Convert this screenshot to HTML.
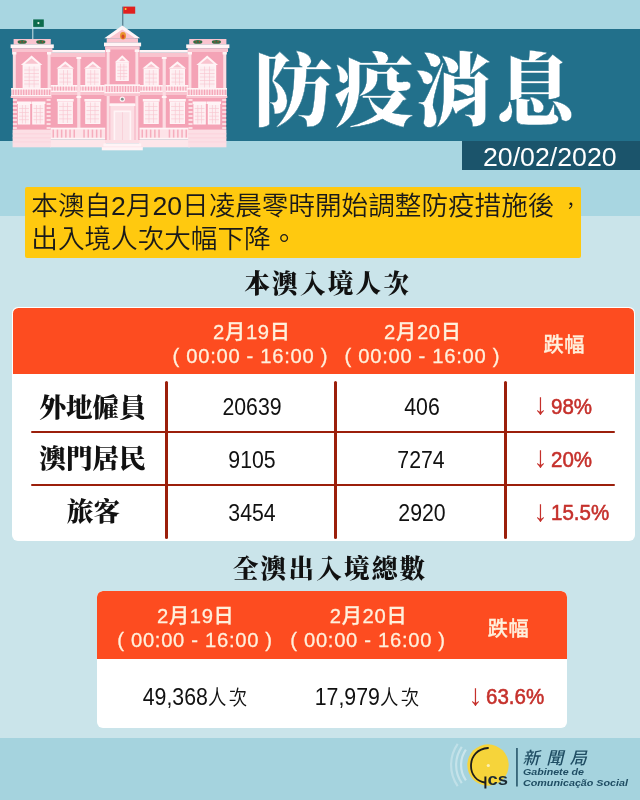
<!DOCTYPE html>
<html lang="zh-Hant">
<head>
<meta charset="utf-8">
<title>防疫消息</title>
<style>
html,body{margin:0;padding:0;}
body{width:640px;height:800px;overflow:hidden;position:relative;background:#cae4ea;
  font-family:"Liberation Sans","Noto Sans CJK TC",sans-serif;color:#111;}
.abs{position:absolute;}
#bgtop{left:0;top:0;width:640px;height:215.7px;background:#a8d6e1;}
#bgbot{left:0;top:738.4px;width:640px;height:62px;background:#a5d3de;}
#band{left:0;top:28.6px;width:640px;height:112.2px;background:#22708b;}
#dateband{left:462px;top:140.8px;width:178px;height:29px;background:#1b546b;}
#title{left:253.4px;top:34.4px;font-family:"Liberation Serif","Noto Serif CJK SC",serif;font-weight:900;
  font-size:79.2px;line-height:116px;color:#fff;white-space:nowrap;letter-spacing:1.5px;-webkit-text-stroke:0.4px #22708b;}
#date{left:462px;top:141.5px;width:154.6px;height:29px;line-height:30px;text-align:right;color:#fff;font-size:26.7px;white-space:nowrap;}
#note{left:24.8px;top:187.4px;width:556px;height:70.2px;background:#ffc90f;border-radius:2px;}
#note div{position:absolute;left:6.5px;white-space:nowrap;font-size:26.6px;line-height:33px;color:#1a1a1a;font-weight:350;}
.sec{font-family:"Liberation Serif","Noto Serif CJK SC",serif;font-weight:900;font-size:25.6px;line-height:34px;letter-spacing:2.2px;text-indent:2.2px;
  white-space:nowrap;text-align:center;color:#111;width:300px;}
.card{background:#fff;border-radius:6px;overflow:hidden;}
.hd{position:absolute;left:0.6px;top:0.6px;right:0.6px;background:#fd4c20;border-radius:5.5px 5.5px 0 0;}
.ht{position:absolute;text-align:center;color:#fff0dc;white-space:nowrap;font-size:20.2px;line-height:24px;width:200px;font-weight:500;letter-spacing:0.7px;text-indent:0.7px;-webkit-text-stroke:0.3px #fff0dc;}
.num{position:absolute;text-align:center;white-space:nowrap;font-size:23.8px;transform:scaleX(0.895);line-height:24px;color:#111;width:160px;}
.rc{font-size:20.6px;font-weight:350;letter-spacing:2.8px;margin-right:-2.8px;}
.red{color:#c5302b;text-align:left;font-size:22.2px;transform:none;-webkit-text-stroke:0.35px #c5302b;}
.ar{display:inline-block;position:relative;top:0.8px;transform:scale(1.3,1.34);transform-origin:50% 78%;margin-right:5.4px;-webkit-text-stroke:0;}
.pv{display:inline-block;transform:scaleX(0.925);transform-origin:0 50%;-webkit-text-stroke:0.55px #c5302b;}
.lab{position:absolute;text-align:center;white-space:nowrap;font-family:"Liberation Serif","Noto Serif CJK SC",serif;font-weight:900;
  font-size:26.7px;line-height:30px;width:140px;color:#111;}
.vl,.hl{position:absolute;background:#9b1f0b;border-radius:2px;}
</style>
</head>
<body>
<div class="abs" id="bgtop"></div>
<div class="abs" id="bgbot"></div>
<div class="abs" id="band"></div>
<div class="abs" id="dateband"></div>
<svg class="abs" style="left:0;top:0" width="250" height="160" viewBox="0 0 250 160" shape-rendering="auto">
<rect x="50.00" y="50.00" width="56.00" height="2.80" fill="#fff4f6"/>
<rect x="50.00" y="52.80" width="56.00" height="4.20" fill="#f9c4cf"/>
<rect x="50.00" y="57.00" width="56.00" height="71.00" fill="#f4a3b6"/>
<polygon points="65.30,61.30 74.10,68.60 56.50,68.60" fill="#fff4f6"/>
<polygon points="65.30,63.90 69.90,67.40 60.70,67.40" fill="#f9c4cf"/>
<rect x="57.70" y="68.60" width="15.20" height="18.40" fill="#fff4f6"/>
<rect x="59.30" y="70.10" width="12.00" height="15.90" fill="#fdeef1"/>
<rect x="63.00" y="70.10" width="0.60" height="15.90" fill="#f9c4cf"/>
<rect x="67.00" y="70.10" width="0.60" height="15.90" fill="#f9c4cf"/>
<rect x="59.30" y="73.77" width="12.00" height="0.60" fill="#f9c4cf"/>
<rect x="59.30" y="77.75" width="12.00" height="0.60" fill="#f9c4cf"/>
<rect x="59.30" y="81.73" width="12.00" height="0.60" fill="#f9c4cf"/>
<polygon points="92.80,61.30 101.60,68.60 84.00,68.60" fill="#fff4f6"/>
<polygon points="92.80,63.90 97.40,67.40 88.20,67.40" fill="#f9c4cf"/>
<rect x="85.20" y="68.60" width="15.20" height="18.40" fill="#fff4f6"/>
<rect x="86.80" y="70.10" width="12.00" height="15.90" fill="#fdeef1"/>
<rect x="90.50" y="70.10" width="0.60" height="15.90" fill="#f9c4cf"/>
<rect x="94.50" y="70.10" width="0.60" height="15.90" fill="#f9c4cf"/>
<rect x="86.80" y="73.77" width="12.00" height="0.60" fill="#f9c4cf"/>
<rect x="86.80" y="77.75" width="12.00" height="0.60" fill="#f9c4cf"/>
<rect x="86.80" y="81.73" width="12.00" height="0.60" fill="#f9c4cf"/>
<rect x="50.00" y="85.00" width="56.00" height="7.20" fill="#fcdde3"/>
<rect x="50.00" y="85.00" width="56.00" height="1.60" fill="#fff4f6"/>
<rect x="50.00" y="90.60" width="56.00" height="1.60" fill="#fff4f6"/>
<rect x="51.50" y="86.60" width="1.20" height="4.00" fill="#f4a3b6"/>
<rect x="54.30" y="86.60" width="1.20" height="4.00" fill="#f4a3b6"/>
<rect x="57.10" y="86.60" width="1.20" height="4.00" fill="#f4a3b6"/>
<rect x="59.90" y="86.60" width="1.20" height="4.00" fill="#f4a3b6"/>
<rect x="62.70" y="86.60" width="1.20" height="4.00" fill="#f4a3b6"/>
<rect x="65.50" y="86.60" width="1.20" height="4.00" fill="#f4a3b6"/>
<rect x="68.30" y="86.60" width="1.20" height="4.00" fill="#f4a3b6"/>
<rect x="71.10" y="86.60" width="1.20" height="4.00" fill="#f4a3b6"/>
<rect x="73.90" y="86.60" width="1.20" height="4.00" fill="#f4a3b6"/>
<rect x="76.70" y="86.60" width="1.20" height="4.00" fill="#f4a3b6"/>
<rect x="79.50" y="86.60" width="1.20" height="4.00" fill="#f4a3b6"/>
<rect x="82.30" y="86.60" width="1.20" height="4.00" fill="#f4a3b6"/>
<rect x="85.10" y="86.60" width="1.20" height="4.00" fill="#f4a3b6"/>
<rect x="87.90" y="86.60" width="1.20" height="4.00" fill="#f4a3b6"/>
<rect x="90.70" y="86.60" width="1.20" height="4.00" fill="#f4a3b6"/>
<rect x="93.50" y="86.60" width="1.20" height="4.00" fill="#f4a3b6"/>
<rect x="96.30" y="86.60" width="1.20" height="4.00" fill="#f4a3b6"/>
<rect x="99.10" y="86.60" width="1.20" height="4.00" fill="#f4a3b6"/>
<rect x="101.90" y="86.60" width="1.20" height="4.00" fill="#f4a3b6"/>
<rect x="50.00" y="92.20" width="56.00" height="2.80" fill="#f9c4cf"/>
<rect x="56.90" y="99.00" width="16.80" height="2.50" fill="#fff4f6"/>
<rect x="57.70" y="101.50" width="15.20" height="22.50" fill="#fff4f6"/>
<rect x="59.00" y="102.50" width="12.60" height="20.50" fill="#fdeef1"/>
<rect x="62.80" y="102.50" width="0.60" height="20.50" fill="#f9c4cf"/>
<rect x="67.20" y="102.50" width="0.60" height="20.50" fill="#f9c4cf"/>
<rect x="59.00" y="106.30" width="12.60" height="0.60" fill="#f9c4cf"/>
<rect x="59.00" y="110.40" width="12.60" height="0.60" fill="#f9c4cf"/>
<rect x="59.00" y="114.50" width="12.60" height="0.60" fill="#f9c4cf"/>
<rect x="59.00" y="118.60" width="12.60" height="0.60" fill="#f9c4cf"/>
<rect x="84.40" y="99.00" width="16.80" height="2.50" fill="#fff4f6"/>
<rect x="85.20" y="101.50" width="15.20" height="22.50" fill="#fff4f6"/>
<rect x="86.50" y="102.50" width="12.60" height="20.50" fill="#fdeef1"/>
<rect x="90.30" y="102.50" width="0.60" height="20.50" fill="#f9c4cf"/>
<rect x="94.70" y="102.50" width="0.60" height="20.50" fill="#f9c4cf"/>
<rect x="86.50" y="106.30" width="12.60" height="0.60" fill="#f9c4cf"/>
<rect x="86.50" y="110.40" width="12.60" height="0.60" fill="#f9c4cf"/>
<rect x="86.50" y="114.50" width="12.60" height="0.60" fill="#f9c4cf"/>
<rect x="86.50" y="118.60" width="12.60" height="0.60" fill="#f9c4cf"/>
<rect x="77.20" y="57.00" width="3.20" height="71.00" fill="#fcdde3"/>
<rect x="76.40" y="57.00" width="4.80" height="2.00" fill="#fff4f6"/>
<rect x="76.40" y="96.00" width="4.80" height="2.00" fill="#fff4f6"/>
<rect x="50.00" y="127.80" width="56.00" height="11.60" fill="#fde3e8"/>
<rect x="50.00" y="127.80" width="56.00" height="1.50" fill="#fff4f6"/>
<rect x="50.00" y="137.80" width="56.00" height="1.60" fill="#fff4f6"/>
<rect x="52.50" y="129.60" width="1.50" height="8.00" fill="#f6adbd"/>
<rect x="56.70" y="129.60" width="1.50" height="8.00" fill="#f6adbd"/>
<rect x="60.90" y="129.60" width="1.50" height="8.00" fill="#f6adbd"/>
<rect x="65.10" y="129.60" width="1.50" height="8.00" fill="#f6adbd"/>
<rect x="69.30" y="129.60" width="1.50" height="8.00" fill="#f6adbd"/>
<rect x="73.50" y="129.60" width="1.50" height="8.00" fill="#f6adbd"/>
<rect x="83.30" y="129.60" width="1.50" height="8.00" fill="#f6adbd"/>
<rect x="87.50" y="129.60" width="1.50" height="8.00" fill="#f6adbd"/>
<rect x="91.70" y="129.60" width="1.50" height="8.00" fill="#f6adbd"/>
<rect x="95.90" y="129.60" width="1.50" height="8.00" fill="#f6adbd"/>
<rect x="100.10" y="129.60" width="1.50" height="8.00" fill="#f6adbd"/>
<rect x="50.00" y="139.40" width="56.00" height="7.90" fill="#fde6ea"/>
<rect x="139.00" y="50.00" width="51.00" height="2.80" fill="#fff4f6"/>
<rect x="139.00" y="52.80" width="51.00" height="4.20" fill="#f9c4cf"/>
<rect x="139.00" y="57.00" width="51.00" height="71.00" fill="#f4a3b6"/>
<polygon points="151.20,61.30 160.00,68.60 142.40,68.60" fill="#fff4f6"/>
<polygon points="151.20,63.90 155.80,67.40 146.60,67.40" fill="#f9c4cf"/>
<rect x="143.60" y="68.60" width="15.20" height="18.40" fill="#fff4f6"/>
<rect x="145.20" y="70.10" width="12.00" height="15.90" fill="#fdeef1"/>
<rect x="148.90" y="70.10" width="0.60" height="15.90" fill="#f9c4cf"/>
<rect x="152.90" y="70.10" width="0.60" height="15.90" fill="#f9c4cf"/>
<rect x="145.20" y="73.77" width="12.00" height="0.60" fill="#f9c4cf"/>
<rect x="145.20" y="77.75" width="12.00" height="0.60" fill="#f9c4cf"/>
<rect x="145.20" y="81.73" width="12.00" height="0.60" fill="#f9c4cf"/>
<polygon points="177.40,61.30 186.20,68.60 168.60,68.60" fill="#fff4f6"/>
<polygon points="177.40,63.90 182.00,67.40 172.80,67.40" fill="#f9c4cf"/>
<rect x="169.80" y="68.60" width="15.20" height="18.40" fill="#fff4f6"/>
<rect x="171.40" y="70.10" width="12.00" height="15.90" fill="#fdeef1"/>
<rect x="175.10" y="70.10" width="0.60" height="15.90" fill="#f9c4cf"/>
<rect x="179.10" y="70.10" width="0.60" height="15.90" fill="#f9c4cf"/>
<rect x="171.40" y="73.77" width="12.00" height="0.60" fill="#f9c4cf"/>
<rect x="171.40" y="77.75" width="12.00" height="0.60" fill="#f9c4cf"/>
<rect x="171.40" y="81.73" width="12.00" height="0.60" fill="#f9c4cf"/>
<rect x="139.00" y="85.00" width="51.00" height="7.20" fill="#fcdde3"/>
<rect x="139.00" y="85.00" width="51.00" height="1.60" fill="#fff4f6"/>
<rect x="139.00" y="90.60" width="51.00" height="1.60" fill="#fff4f6"/>
<rect x="140.50" y="86.60" width="1.20" height="4.00" fill="#f4a3b6"/>
<rect x="143.30" y="86.60" width="1.20" height="4.00" fill="#f4a3b6"/>
<rect x="146.10" y="86.60" width="1.20" height="4.00" fill="#f4a3b6"/>
<rect x="148.90" y="86.60" width="1.20" height="4.00" fill="#f4a3b6"/>
<rect x="151.70" y="86.60" width="1.20" height="4.00" fill="#f4a3b6"/>
<rect x="154.50" y="86.60" width="1.20" height="4.00" fill="#f4a3b6"/>
<rect x="157.30" y="86.60" width="1.20" height="4.00" fill="#f4a3b6"/>
<rect x="160.10" y="86.60" width="1.20" height="4.00" fill="#f4a3b6"/>
<rect x="162.90" y="86.60" width="1.20" height="4.00" fill="#f4a3b6"/>
<rect x="165.70" y="86.60" width="1.20" height="4.00" fill="#f4a3b6"/>
<rect x="168.50" y="86.60" width="1.20" height="4.00" fill="#f4a3b6"/>
<rect x="171.30" y="86.60" width="1.20" height="4.00" fill="#f4a3b6"/>
<rect x="174.10" y="86.60" width="1.20" height="4.00" fill="#f4a3b6"/>
<rect x="176.90" y="86.60" width="1.20" height="4.00" fill="#f4a3b6"/>
<rect x="179.70" y="86.60" width="1.20" height="4.00" fill="#f4a3b6"/>
<rect x="182.50" y="86.60" width="1.20" height="4.00" fill="#f4a3b6"/>
<rect x="185.30" y="86.60" width="1.20" height="4.00" fill="#f4a3b6"/>
<rect x="188.10" y="86.60" width="1.20" height="4.00" fill="#f4a3b6"/>
<rect x="139.00" y="92.20" width="51.00" height="2.80" fill="#f9c4cf"/>
<rect x="142.80" y="99.00" width="16.80" height="2.50" fill="#fff4f6"/>
<rect x="143.60" y="101.50" width="15.20" height="22.50" fill="#fff4f6"/>
<rect x="144.90" y="102.50" width="12.60" height="20.50" fill="#fdeef1"/>
<rect x="148.70" y="102.50" width="0.60" height="20.50" fill="#f9c4cf"/>
<rect x="153.10" y="102.50" width="0.60" height="20.50" fill="#f9c4cf"/>
<rect x="144.90" y="106.30" width="12.60" height="0.60" fill="#f9c4cf"/>
<rect x="144.90" y="110.40" width="12.60" height="0.60" fill="#f9c4cf"/>
<rect x="144.90" y="114.50" width="12.60" height="0.60" fill="#f9c4cf"/>
<rect x="144.90" y="118.60" width="12.60" height="0.60" fill="#f9c4cf"/>
<rect x="169.00" y="99.00" width="16.80" height="2.50" fill="#fff4f6"/>
<rect x="169.80" y="101.50" width="15.20" height="22.50" fill="#fff4f6"/>
<rect x="171.10" y="102.50" width="12.60" height="20.50" fill="#fdeef1"/>
<rect x="174.90" y="102.50" width="0.60" height="20.50" fill="#f9c4cf"/>
<rect x="179.30" y="102.50" width="0.60" height="20.50" fill="#f9c4cf"/>
<rect x="171.10" y="106.30" width="12.60" height="0.60" fill="#f9c4cf"/>
<rect x="171.10" y="110.40" width="12.60" height="0.60" fill="#f9c4cf"/>
<rect x="171.10" y="114.50" width="12.60" height="0.60" fill="#f9c4cf"/>
<rect x="171.10" y="118.60" width="12.60" height="0.60" fill="#f9c4cf"/>
<rect x="162.60" y="57.00" width="3.20" height="71.00" fill="#fcdde3"/>
<rect x="161.80" y="57.00" width="4.80" height="2.00" fill="#fff4f6"/>
<rect x="161.80" y="96.00" width="4.80" height="2.00" fill="#fff4f6"/>
<rect x="139.00" y="127.80" width="51.00" height="11.60" fill="#fde3e8"/>
<rect x="139.00" y="127.80" width="51.00" height="1.50" fill="#fff4f6"/>
<rect x="139.00" y="137.80" width="51.00" height="1.60" fill="#fff4f6"/>
<rect x="141.50" y="129.60" width="1.50" height="8.00" fill="#f6adbd"/>
<rect x="145.70" y="129.60" width="1.50" height="8.00" fill="#f6adbd"/>
<rect x="149.90" y="129.60" width="1.50" height="8.00" fill="#f6adbd"/>
<rect x="154.10" y="129.60" width="1.50" height="8.00" fill="#f6adbd"/>
<rect x="158.30" y="129.60" width="1.50" height="8.00" fill="#f6adbd"/>
<rect x="168.70" y="129.60" width="1.50" height="8.00" fill="#f6adbd"/>
<rect x="172.90" y="129.60" width="1.50" height="8.00" fill="#f6adbd"/>
<rect x="177.10" y="129.60" width="1.50" height="8.00" fill="#f6adbd"/>
<rect x="181.30" y="129.60" width="1.50" height="8.00" fill="#f6adbd"/>
<rect x="185.50" y="129.60" width="1.50" height="8.00" fill="#f6adbd"/>
<rect x="139.00" y="139.40" width="51.00" height="7.90" fill="#fde6ea"/>
<rect x="13.60" y="39.00" width="37.20" height="5.60" fill="#f9c4cf"/>
<ellipse cx="22.20" cy="41.9" rx="4.6" ry="1.9" fill="#2f6e45"/>
<circle cx="20.70" cy="41.9" r="0.7" fill="#c0392b"/><circle cx="23.80" cy="41.7" r="0.7" fill="#c0392b"/>
<ellipse cx="40.80" cy="41.9" rx="4.6" ry="1.9" fill="#2f6e45"/>
<circle cx="39.30" cy="41.9" r="0.7" fill="#c0392b"/><circle cx="42.40" cy="41.7" r="0.7" fill="#c0392b"/>
<rect x="10.60" y="44.40" width="43.20" height="3.80" fill="#fff4f6"/>
<rect x="12.00" y="48.20" width="40.40" height="3.80" fill="#f9c4cf"/>
<rect x="12.90" y="52.00" width="37.70" height="78.00" fill="#f4a3b6"/>
<rect x="12.90" y="52.00" width="2.90" height="36.00" fill="#fcdde3"/>
<rect x="47.60" y="52.00" width="3.00" height="36.00" fill="#fcdde3"/>
<rect x="12.20" y="52.00" width="4.20" height="2.50" fill="#fff4f6"/>
<rect x="47.00" y="52.00" width="4.20" height="2.50" fill="#fff4f6"/>
<polygon points="31.60,55.60 42.40,65.00 20.80,65.00" fill="#fff4f6"/>
<polygon points="31.60,58.20 38.20,63.80 25.00,63.80" fill="#f9c4cf"/>
<rect x="22.60" y="65.00" width="18.00" height="23.50" fill="#fff4f6"/>
<rect x="24.20" y="66.50" width="14.80" height="21.00" fill="#fdeef1"/>
<rect x="28.83" y="66.50" width="0.60" height="21.00" fill="#f9c4cf"/>
<rect x="33.77" y="66.50" width="0.60" height="21.00" fill="#f9c4cf"/>
<rect x="24.20" y="69.70" width="14.80" height="0.60" fill="#f9c4cf"/>
<rect x="24.20" y="73.20" width="14.80" height="0.60" fill="#f9c4cf"/>
<rect x="24.20" y="76.70" width="14.80" height="0.60" fill="#f9c4cf"/>
<rect x="24.20" y="80.20" width="14.80" height="0.60" fill="#f9c4cf"/>
<rect x="24.20" y="83.70" width="14.80" height="0.60" fill="#f9c4cf"/>
<rect x="11.20" y="88.00" width="40.00" height="8.60" fill="#fcdde3"/>
<rect x="11.20" y="88.00" width="40.00" height="1.60" fill="#fff4f6"/>
<rect x="11.20" y="95.00" width="40.00" height="1.60" fill="#fff4f6"/>
<rect x="12.70" y="89.60" width="1.20" height="5.40" fill="#f4a3b6"/>
<rect x="15.30" y="89.60" width="1.20" height="5.40" fill="#f4a3b6"/>
<rect x="17.90" y="89.60" width="1.20" height="5.40" fill="#f4a3b6"/>
<rect x="20.50" y="89.60" width="1.20" height="5.40" fill="#f4a3b6"/>
<rect x="23.10" y="89.60" width="1.20" height="5.40" fill="#f4a3b6"/>
<rect x="25.70" y="89.60" width="1.20" height="5.40" fill="#f4a3b6"/>
<rect x="28.30" y="89.60" width="1.20" height="5.40" fill="#f4a3b6"/>
<rect x="30.90" y="89.60" width="1.20" height="5.40" fill="#f4a3b6"/>
<rect x="33.50" y="89.60" width="1.20" height="5.40" fill="#f4a3b6"/>
<rect x="36.10" y="89.60" width="1.20" height="5.40" fill="#f4a3b6"/>
<rect x="38.70" y="89.60" width="1.20" height="5.40" fill="#f4a3b6"/>
<rect x="41.30" y="89.60" width="1.20" height="5.40" fill="#f4a3b6"/>
<rect x="43.90" y="89.60" width="1.20" height="5.40" fill="#f4a3b6"/>
<rect x="46.50" y="89.60" width="1.20" height="5.40" fill="#f4a3b6"/>
<rect x="49.10" y="89.60" width="1.20" height="5.40" fill="#f4a3b6"/>
<rect x="10.70" y="96.00" width="41.00" height="2.00" fill="#f9c4cf"/>
<rect x="17.00" y="101.50" width="14.00" height="2.50" fill="#fff4f6"/>
<rect x="17.80" y="104.00" width="12.40" height="20.50" fill="#fff4f6"/>
<rect x="19.10" y="105.00" width="9.80" height="18.50" fill="#fdeef1"/>
<rect x="21.97" y="105.00" width="0.60" height="18.50" fill="#f9c4cf"/>
<rect x="25.43" y="105.00" width="0.60" height="18.50" fill="#f9c4cf"/>
<rect x="19.10" y="108.40" width="9.80" height="0.60" fill="#f9c4cf"/>
<rect x="19.10" y="112.10" width="9.80" height="0.60" fill="#f9c4cf"/>
<rect x="19.10" y="115.80" width="9.80" height="0.60" fill="#f9c4cf"/>
<rect x="19.10" y="119.50" width="9.80" height="0.60" fill="#f9c4cf"/>
<rect x="31.40" y="101.50" width="14.00" height="2.50" fill="#fff4f6"/>
<rect x="32.20" y="104.00" width="12.40" height="20.50" fill="#fff4f6"/>
<rect x="33.50" y="105.00" width="9.80" height="18.50" fill="#fdeef1"/>
<rect x="36.37" y="105.00" width="0.60" height="18.50" fill="#f9c4cf"/>
<rect x="39.83" y="105.00" width="0.60" height="18.50" fill="#f9c4cf"/>
<rect x="33.50" y="108.40" width="9.80" height="0.60" fill="#f9c4cf"/>
<rect x="33.50" y="112.10" width="9.80" height="0.60" fill="#f9c4cf"/>
<rect x="33.50" y="115.80" width="9.80" height="0.60" fill="#f9c4cf"/>
<rect x="33.50" y="119.50" width="9.80" height="0.60" fill="#f9c4cf"/>
<rect x="12.90" y="99.00" width="4.00" height="2.00" fill="#fcdde3"/>
<rect x="46.60" y="99.00" width="4.00" height="2.00" fill="#fcdde3"/>
<rect x="12.90" y="103.00" width="4.00" height="2.00" fill="#fcdde3"/>
<rect x="46.60" y="103.00" width="4.00" height="2.00" fill="#fcdde3"/>
<rect x="12.90" y="107.00" width="4.00" height="2.00" fill="#fcdde3"/>
<rect x="46.60" y="107.00" width="4.00" height="2.00" fill="#fcdde3"/>
<rect x="12.90" y="111.00" width="4.00" height="2.00" fill="#fcdde3"/>
<rect x="46.60" y="111.00" width="4.00" height="2.00" fill="#fcdde3"/>
<rect x="12.90" y="115.00" width="4.00" height="2.00" fill="#fcdde3"/>
<rect x="46.60" y="115.00" width="4.00" height="2.00" fill="#fcdde3"/>
<rect x="12.90" y="119.00" width="4.00" height="2.00" fill="#fcdde3"/>
<rect x="46.60" y="119.00" width="4.00" height="2.00" fill="#fcdde3"/>
<rect x="12.90" y="123.00" width="4.00" height="2.00" fill="#fcdde3"/>
<rect x="46.60" y="123.00" width="4.00" height="2.00" fill="#fcdde3"/>
<rect x="12.90" y="127.00" width="4.00" height="2.00" fill="#fcdde3"/>
<rect x="46.60" y="127.00" width="4.00" height="2.00" fill="#fcdde3"/>
<rect x="12.60" y="129.60" width="38.20" height="17.70" fill="#fcdfe5"/>
<rect x="12.60" y="133.50" width="38.20" height="0.80" fill="#fbd0d9"/>
<rect x="12.60" y="137.50" width="38.20" height="0.80" fill="#fbd0d9"/>
<rect x="12.60" y="141.60" width="38.20" height="0.70" fill="#fbd0d9"/>
<rect x="189.20" y="39.00" width="37.20" height="5.60" fill="#f9c4cf"/>
<ellipse cx="197.80" cy="41.9" rx="4.6" ry="1.9" fill="#2f6e45"/>
<circle cx="196.30" cy="41.9" r="0.7" fill="#c0392b"/><circle cx="199.40" cy="41.7" r="0.7" fill="#c0392b"/>
<ellipse cx="216.40" cy="41.9" rx="4.6" ry="1.9" fill="#2f6e45"/>
<circle cx="214.90" cy="41.9" r="0.7" fill="#c0392b"/><circle cx="218.00" cy="41.7" r="0.7" fill="#c0392b"/>
<rect x="186.20" y="44.40" width="43.20" height="3.80" fill="#fff4f6"/>
<rect x="187.60" y="48.20" width="40.40" height="3.80" fill="#f9c4cf"/>
<rect x="188.50" y="52.00" width="37.70" height="78.00" fill="#f4a3b6"/>
<rect x="188.50" y="52.00" width="2.90" height="36.00" fill="#fcdde3"/>
<rect x="223.20" y="52.00" width="3.00" height="36.00" fill="#fcdde3"/>
<rect x="187.80" y="52.00" width="4.20" height="2.50" fill="#fff4f6"/>
<rect x="222.60" y="52.00" width="4.20" height="2.50" fill="#fff4f6"/>
<polygon points="207.20,55.60 218.00,65.00 196.40,65.00" fill="#fff4f6"/>
<polygon points="207.20,58.20 213.80,63.80 200.60,63.80" fill="#f9c4cf"/>
<rect x="198.20" y="65.00" width="18.00" height="23.50" fill="#fff4f6"/>
<rect x="199.80" y="66.50" width="14.80" height="21.00" fill="#fdeef1"/>
<rect x="204.43" y="66.50" width="0.60" height="21.00" fill="#f9c4cf"/>
<rect x="209.37" y="66.50" width="0.60" height="21.00" fill="#f9c4cf"/>
<rect x="199.80" y="69.70" width="14.80" height="0.60" fill="#f9c4cf"/>
<rect x="199.80" y="73.20" width="14.80" height="0.60" fill="#f9c4cf"/>
<rect x="199.80" y="76.70" width="14.80" height="0.60" fill="#f9c4cf"/>
<rect x="199.80" y="80.20" width="14.80" height="0.60" fill="#f9c4cf"/>
<rect x="199.80" y="83.70" width="14.80" height="0.60" fill="#f9c4cf"/>
<rect x="186.80" y="88.00" width="40.00" height="8.60" fill="#fcdde3"/>
<rect x="186.80" y="88.00" width="40.00" height="1.60" fill="#fff4f6"/>
<rect x="186.80" y="95.00" width="40.00" height="1.60" fill="#fff4f6"/>
<rect x="188.30" y="89.60" width="1.20" height="5.40" fill="#f4a3b6"/>
<rect x="190.90" y="89.60" width="1.20" height="5.40" fill="#f4a3b6"/>
<rect x="193.50" y="89.60" width="1.20" height="5.40" fill="#f4a3b6"/>
<rect x="196.10" y="89.60" width="1.20" height="5.40" fill="#f4a3b6"/>
<rect x="198.70" y="89.60" width="1.20" height="5.40" fill="#f4a3b6"/>
<rect x="201.30" y="89.60" width="1.20" height="5.40" fill="#f4a3b6"/>
<rect x="203.90" y="89.60" width="1.20" height="5.40" fill="#f4a3b6"/>
<rect x="206.50" y="89.60" width="1.20" height="5.40" fill="#f4a3b6"/>
<rect x="209.10" y="89.60" width="1.20" height="5.40" fill="#f4a3b6"/>
<rect x="211.70" y="89.60" width="1.20" height="5.40" fill="#f4a3b6"/>
<rect x="214.30" y="89.60" width="1.20" height="5.40" fill="#f4a3b6"/>
<rect x="216.90" y="89.60" width="1.20" height="5.40" fill="#f4a3b6"/>
<rect x="219.50" y="89.60" width="1.20" height="5.40" fill="#f4a3b6"/>
<rect x="222.10" y="89.60" width="1.20" height="5.40" fill="#f4a3b6"/>
<rect x="224.70" y="89.60" width="1.20" height="5.40" fill="#f4a3b6"/>
<rect x="186.30" y="96.00" width="41.00" height="2.00" fill="#f9c4cf"/>
<rect x="192.60" y="101.50" width="14.00" height="2.50" fill="#fff4f6"/>
<rect x="193.40" y="104.00" width="12.40" height="20.50" fill="#fff4f6"/>
<rect x="194.70" y="105.00" width="9.80" height="18.50" fill="#fdeef1"/>
<rect x="197.57" y="105.00" width="0.60" height="18.50" fill="#f9c4cf"/>
<rect x="201.03" y="105.00" width="0.60" height="18.50" fill="#f9c4cf"/>
<rect x="194.70" y="108.40" width="9.80" height="0.60" fill="#f9c4cf"/>
<rect x="194.70" y="112.10" width="9.80" height="0.60" fill="#f9c4cf"/>
<rect x="194.70" y="115.80" width="9.80" height="0.60" fill="#f9c4cf"/>
<rect x="194.70" y="119.50" width="9.80" height="0.60" fill="#f9c4cf"/>
<rect x="207.00" y="101.50" width="14.00" height="2.50" fill="#fff4f6"/>
<rect x="207.80" y="104.00" width="12.40" height="20.50" fill="#fff4f6"/>
<rect x="209.10" y="105.00" width="9.80" height="18.50" fill="#fdeef1"/>
<rect x="211.97" y="105.00" width="0.60" height="18.50" fill="#f9c4cf"/>
<rect x="215.43" y="105.00" width="0.60" height="18.50" fill="#f9c4cf"/>
<rect x="209.10" y="108.40" width="9.80" height="0.60" fill="#f9c4cf"/>
<rect x="209.10" y="112.10" width="9.80" height="0.60" fill="#f9c4cf"/>
<rect x="209.10" y="115.80" width="9.80" height="0.60" fill="#f9c4cf"/>
<rect x="209.10" y="119.50" width="9.80" height="0.60" fill="#f9c4cf"/>
<rect x="188.50" y="99.00" width="4.00" height="2.00" fill="#fcdde3"/>
<rect x="222.20" y="99.00" width="4.00" height="2.00" fill="#fcdde3"/>
<rect x="188.50" y="103.00" width="4.00" height="2.00" fill="#fcdde3"/>
<rect x="222.20" y="103.00" width="4.00" height="2.00" fill="#fcdde3"/>
<rect x="188.50" y="107.00" width="4.00" height="2.00" fill="#fcdde3"/>
<rect x="222.20" y="107.00" width="4.00" height="2.00" fill="#fcdde3"/>
<rect x="188.50" y="111.00" width="4.00" height="2.00" fill="#fcdde3"/>
<rect x="222.20" y="111.00" width="4.00" height="2.00" fill="#fcdde3"/>
<rect x="188.50" y="115.00" width="4.00" height="2.00" fill="#fcdde3"/>
<rect x="222.20" y="115.00" width="4.00" height="2.00" fill="#fcdde3"/>
<rect x="188.50" y="119.00" width="4.00" height="2.00" fill="#fcdde3"/>
<rect x="222.20" y="119.00" width="4.00" height="2.00" fill="#fcdde3"/>
<rect x="188.50" y="123.00" width="4.00" height="2.00" fill="#fcdde3"/>
<rect x="222.20" y="123.00" width="4.00" height="2.00" fill="#fcdde3"/>
<rect x="188.50" y="127.00" width="4.00" height="2.00" fill="#fcdde3"/>
<rect x="222.20" y="127.00" width="4.00" height="2.00" fill="#fcdde3"/>
<rect x="188.20" y="129.60" width="38.20" height="17.70" fill="#fcdfe5"/>
<rect x="188.20" y="133.50" width="38.20" height="0.80" fill="#fbd0d9"/>
<rect x="188.20" y="137.50" width="38.20" height="0.80" fill="#fbd0d9"/>
<rect x="188.20" y="141.60" width="38.20" height="0.70" fill="#fbd0d9"/>
<rect x="32.30" y="19.40" width="1.00" height="20.00" fill="#cfe6ea"/>
<rect x="33.20" y="19.40" width="10.60" height="7.50" fill="#0b6b4c"/>
<circle cx="38.4" cy="23.1" r="1.1" fill="#e8f3e0"/>
<rect x="122.00" y="6.60" width="1.40" height="19.90" fill="#5f8797"/>
<rect x="123.20" y="6.60" width="12.00" height="7.10" fill="#e0201f"/>
<circle cx="125.6" cy="9" r="1" fill="#ffd23a"/>
<polygon points="122.25,25.60 140.20,38.30 104.30,38.30" fill="#fff4f6"/>
<polygon points="122.25,29.40 135.20,38.30 109.30,38.30" fill="#f9c4cf"/>
<rect x="106.70" y="38.30" width="31.30" height="4.50" fill="#f9c4cf"/>
<rect x="104.00" y="42.60" width="37.10" height="3.80" fill="#fff4f6"/>
<rect x="105.20" y="46.40" width="34.30" height="93.60" fill="#f4a3b6"/>
<rect x="105.20" y="46.40" width="34.30" height="3.10" fill="#f9c4cf"/>
<ellipse cx="123" cy="35.8" rx="3" ry="3.8" fill="#e9952c"/><ellipse cx="123" cy="36.6" rx="1.5" ry="2.2" fill="#d8452a"/>
<rect x="106.70" y="49.50" width="2.90" height="36.50" fill="#fcdde3"/>
<rect x="135.40" y="49.50" width="2.90" height="36.50" fill="#fcdde3"/>
<rect x="106.00" y="49.50" width="4.30" height="2.50" fill="#fff4f6"/>
<rect x="134.70" y="49.50" width="4.30" height="2.50" fill="#fff4f6"/>
<polygon points="122.25,55.20 129.65,62.20 114.85,62.20" fill="#fff4f6"/>
<polygon points="122.25,57.80 125.45,61.00 119.05,61.00" fill="#f9c4cf"/>
<rect x="115.65" y="62.20" width="13.20" height="18.80" fill="#fff4f6"/>
<rect x="117.25" y="63.70" width="10.00" height="16.30" fill="#fdeef1"/>
<rect x="120.28" y="63.70" width="0.60" height="16.30" fill="#f9c4cf"/>
<rect x="123.62" y="63.70" width="0.60" height="16.30" fill="#f9c4cf"/>
<rect x="117.25" y="66.66" width="10.00" height="0.60" fill="#f9c4cf"/>
<rect x="117.25" y="69.92" width="10.00" height="0.60" fill="#f9c4cf"/>
<rect x="117.25" y="73.18" width="10.00" height="0.60" fill="#f9c4cf"/>
<rect x="117.25" y="76.44" width="10.00" height="0.60" fill="#f9c4cf"/>
<rect x="104.50" y="84.50" width="35.50" height="9.00" fill="#fcdde3"/>
<rect x="104.50" y="84.50" width="35.50" height="1.60" fill="#fff4f6"/>
<rect x="104.50" y="91.90" width="35.50" height="1.60" fill="#fff4f6"/>
<rect x="106.00" y="86.10" width="1.20" height="5.80" fill="#f4a3b6"/>
<rect x="108.70" y="86.10" width="1.20" height="5.80" fill="#f4a3b6"/>
<rect x="111.40" y="86.10" width="1.20" height="5.80" fill="#f4a3b6"/>
<rect x="114.10" y="86.10" width="1.20" height="5.80" fill="#f4a3b6"/>
<rect x="116.80" y="86.10" width="1.20" height="5.80" fill="#f4a3b6"/>
<rect x="119.50" y="86.10" width="1.20" height="5.80" fill="#f4a3b6"/>
<rect x="122.20" y="86.10" width="1.20" height="5.80" fill="#f4a3b6"/>
<rect x="124.90" y="86.10" width="1.20" height="5.80" fill="#f4a3b6"/>
<rect x="127.60" y="86.10" width="1.20" height="5.80" fill="#f4a3b6"/>
<rect x="130.30" y="86.10" width="1.20" height="5.80" fill="#f4a3b6"/>
<rect x="133.00" y="86.10" width="1.20" height="5.80" fill="#f4a3b6"/>
<rect x="135.70" y="86.10" width="1.20" height="5.80" fill="#f4a3b6"/>
<rect x="138.40" y="86.10" width="1.20" height="5.80" fill="#f4a3b6"/>
<rect x="104.50" y="93.50" width="35.50" height="2.50" fill="#f9c4cf"/>
<rect x="106.70" y="96.00" width="2.90" height="44.00" fill="#fcdde3"/>
<rect x="135.40" y="96.00" width="2.90" height="44.00" fill="#fcdde3"/>
<circle cx="122.3" cy="99.2" r="2.6" fill="#fff4f6"/><circle cx="122.3" cy="99.2" r="1.4" fill="#7a8f8a"/>
<rect x="110.20" y="103.50" width="24.40" height="36.50" fill="#fcdde3"/>
<rect x="109.40" y="103.50" width="26.00" height="2.50" fill="#fff4f6"/>
<rect x="113.60" y="110.50" width="17.60" height="29.50" fill="#fff4f6"/>
<rect x="115.20" y="112.20" width="14.40" height="27.80" fill="#fbe3e8"/>
<rect x="122.10" y="112.20" width="0.60" height="27.80" fill="#f9c4cf"/>
<rect x="105.00" y="140.00" width="34.50" height="3.50" fill="#fcdde3"/>
<rect x="103.40" y="143.50" width="37.80" height="3.50" fill="#fff4f6"/>
<rect x="101.80" y="147.00" width="41.00" height="3.30" fill="#fff4f6"/>
<rect x="101.80" y="146.60" width="41.00" height="0.60" fill="#fcdde3"/>
</svg>
<div class="abs" id="title">防疫消息</div>
<div class="abs" id="date">20/02/2020</div>

<div class="abs" id="note">
  <div style="top:2.2px;">本澳自2月20日凌晨零時開始調整防疫措施後<span style="font-size:19px;position:relative;left:7px;top:-1.5px;">，</span></div>
  <div style="top:35.4px;">出入境人次大幅下降。</div>
</div>

<div class="abs sec" style="left:176.6px;top:268px;">本澳入境人次</div>

<div class="abs card" id="t1" style="left:12px;top:307px;width:622.6px;height:233.5px;">
  <div class="hd" style="height:66.9px;"></div>
  <div class="ht" style="left:139.5px;top:12.5px;">2月19日</div>
  <div class="ht" style="left:138px;top:37px;">( 00:00 - 16:00 )</div>
  <div class="ht" style="left:310.5px;top:12.5px;">2月20日</div>
  <div class="ht" style="left:310px;top:37px;">( 00:00 - 16:00 )</div>
  <div class="ht" style="left:452px;top:26.2px;">跌幅</div>

  <div class="vl" style="left:153.2px;top:74px;width:2.8px;height:158px;"></div>
  <div class="vl" style="left:322.2px;top:74px;width:2.8px;height:158px;"></div>
  <div class="vl" style="left:492.2px;top:74px;width:2.8px;height:158px;"></div>
  <div class="hl" style="left:19px;top:123.5px;width:584px;height:2.8px;"></div>
  <div class="hl" style="left:19px;top:176.6px;width:584px;height:2.8px;"></div>

  <div class="lab" style="left:10.6px;top:85.5px;">外地僱員</div>
  <div class="lab" style="left:10.6px;top:137.3px;">澳門居民</div>
  <div class="lab" style="left:11.4px;top:189.9px;">旅客</div>

  <div class="num" style="left:160px;top:88.25px;">20639</div>
  <div class="num" style="left:160px;top:141px;">9105</div>
  <div class="num" style="left:160px;top:194.25px;">3454</div>
  <div class="num" style="left:330px;top:88.25px;">406</div>
  <div class="num" style="left:329px;top:141px;">7274</div>
  <div class="num" style="left:329.5px;top:194.25px;">2920</div>
  <div class="num red" style="left:522.6px;top:87.5px;"><span class="ar">↓</span><span class="pv">98%</span></div>
  <div class="num red" style="left:522.6px;top:140.5px;"><span class="ar">↓</span><span class="pv">20%</span></div>
  <div class="num red" style="left:522.6px;top:194.4px;"><span class="ar">↓</span><span class="pv">15.5%</span></div>
</div>

<div class="abs sec" style="left:179px;top:553px;">全澳出入境總數</div>

<div class="abs card" id="t2" style="left:96.7px;top:590.6px;width:470.6px;height:137.8px;">
  <div class="hd" style="height:67.8px;"></div>
  <div class="ht" style="left:-1.3px;top:13.6px;">2月19日</div>
  <div class="ht" style="left:-2px;top:37.9px;">( 00:00 - 16:00 )</div>
  <div class="ht" style="left:171.5px;top:13.6px;">2月20日</div>
  <div class="ht" style="left:171px;top:37.9px;">( 00:00 - 16:00 )</div>
  <div class="ht" style="left:311.6px;top:26.9px;">跌幅</div>
  <div class="num" style="left:18.3px;top:94.9px;">49,368<span class="rc">人次</span></div>
  <div class="num" style="left:190.5px;top:94.9px;">17,979<span class="rc">人次</span></div>
  <div class="num red" style="left:373px;top:94.9px;"><span class="ar">↓</span><span class="pv">63.6%</span></div>
</div>

<svg class="abs" style="left:0;top:738px" width="640" height="62" viewBox="0 738 640 62">
<path d="M 465.9 749.6 A 27 27 0 0 0 465.9 780.4" fill="none" stroke="#ffffff" stroke-opacity="0.42" stroke-width="2.2"/>
<path d="M 461.8 746.8 A 32 32 0 0 0 461.8 783.2" fill="none" stroke="#ffffff" stroke-opacity="0.36" stroke-width="2.2"/>
<path d="M 457.7 743.9 A 37 37 0 0 0 457.7 786.1" fill="none" stroke="#ffffff" stroke-opacity="0.3" stroke-width="2.2"/>
<circle cx="488" cy="765" r="20.7" fill="#f6d43a"/>
<circle cx="488.3" cy="765.5" r="1.6" fill="#fbf0b4"/>
<path d="M 488 748 C 478 748.5, 471 756, 471 766 C 471 775, 477 781.5, 485 782.5" fill="none" stroke="#1c1c1c" stroke-width="1.8" stroke-linecap="round"/>
<path d="M 485.4 776.5 L 485.4 788.5" fill="none" stroke="#1c1c1c" stroke-width="2" />
<text x="487.6" y="784.6" font-family="'Liberation Sans',sans-serif" font-weight="bold" font-size="16.4" fill="#1c2a33" textLength="20.5" lengthAdjust="spacingAndGlyphs">cs</text>
<rect x="516.2" y="748" width="1.5" height="38.5" fill="#1f4d63"/>
<text x="522.6" y="764" font-family="'Liberation Sans','Noto Sans CJK TC',sans-serif" font-style="italic" font-weight="500" font-size="17" fill="#1f4d63" letter-spacing="6.6">新聞局</text>
<text x="523" y="775" font-family="'Liberation Sans',sans-serif" font-style="italic" font-weight="bold" font-size="9.3" fill="#1f4d63" textLength="61" lengthAdjust="spacingAndGlyphs">Gabinete de</text>
<text x="523" y="786" font-family="'Liberation Sans',sans-serif" font-style="italic" font-weight="bold" font-size="9.3" fill="#1f4d63" textLength="105" lengthAdjust="spacingAndGlyphs">Comunicação Social</text>
</svg>
</body>
</html>
